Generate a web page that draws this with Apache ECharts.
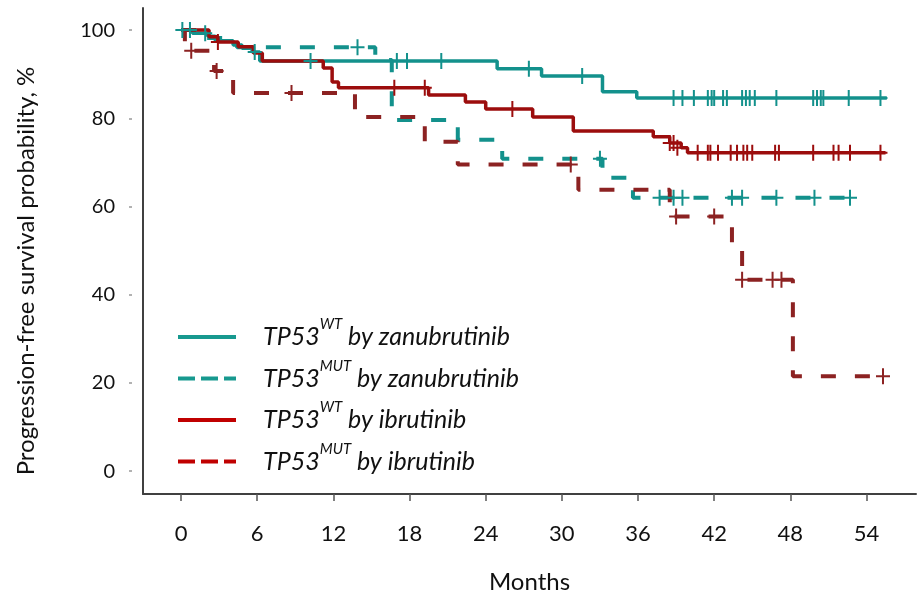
<!DOCTYPE html>
<html>
<head>
<meta charset="utf-8">
<script src="https://cdn.jsdelivr.net/npm/echarts@6/dist/echarts.min.js"></script>
<style>
  html, body { margin: 0; padding: 0; background: #fff; }
  #chart { width: 918px; height: 599px; }
</style>
</head>
<body>
<div id="chart"></div>
<script>
// Kaplan-Meier steps: [month, survival %] (value after the drop)
var zanuWT = [[0,100],[0.9,99.3],[2.1,98.6],[2.7,97.6],[4.1,96.6],[4.8,95.9],[5.6,95.0],[6.2,93.0],
  [24.9,91.2],[28.4,89.6],[33.2,86.0],[35.9,84.6],[55.6,84.6]];
var zanuMUT = [[0,100],[1.4,98.2],[4.4,96.1],[15.3,93.2],[16.6,79.6],[21.8,75.1],[25.3,70.8],
  [33.2,66.5],[35.6,62.0],[53.1,62.0]];
var ibruWT = [[0,100],[2.2,98.5],[2.9,97.3],[4.5,96.2],[5.7,94.8],[6.4,93.0],[11.2,91.4],[11.9,88.2],
  [12.4,86.9],[19.5,85.3],[22.4,83.7],[24.0,82.1],[27.7,80.3],[30.9,77.1],[37.2,75.8],[38.5,74.4],
  [39.4,73.3],[39.9,72.2],[55.5,72.2]];
var ibruMUT = [[0,100],[0.3,95.3],[2.6,90.7],[4.1,85.7],[13.7,80.3],[19.2,74.7],[21.8,69.5],
  [31.3,63.8],[38.5,57.7],[43.4,50.7],[44.2,43.4],[48.2,21.5],[55.3,21.5]];

// censored observations
var zanuWTcens = [[0.1,100],[0.7,100],[1.9,99.3],[5.8,95.0],[10.2,93],[17.0,93],[17.8,93],[20.5,93],
  [27.4,91.2],[31.6,89.6],[38.8,84.6],[39.5,84.6],[40.4,84.6],[41.5,84.6],[41.8,84.6],[42.0,84.6],
  [42.7,84.6],[43.0,84.6],[44.2,84.6],[44.5,84.6],[44.8,84.6],[45.2,84.6],[46.9,84.6],[49.8,84.6],
  [50.1,84.6],[50.4,84.6],[50.6,84.6],[52.6,84.6],[55.1,84.6]];
var zanuMUTcens = [[13.9,96.1],[33.0,70.8],[37.7,62],[38.8,62],[39.5,62],[43.4,62],[44.2,62],
  [46.9,62],[49.9,62],[52.7,62]];
var ibruWTcens = [[2.9,97.3],[16.8,86.9],[19.2,86.9],[26.1,82.1],[38.5,74.4],[38.8,74.4],[39.1,73.3],
  [40.7,72.2],[41.5,72.2],[41.7,72.2],[42.3,72.2],[43.3,72.2],[43.8,72.2],[44.3,72.2],[44.6,72.2],
  [45.0,72.2],[46.8,72.2],[47.1,72.2],[49.8,72.2],[51.4,72.2],[51.8,72.2],[52.7,72.2],[55.1,72.2]];
var ibruMUTcens = [[0.8,95.3],[2.8,90.7],[8.7,85.7],[30.7,69.5],[39.0,57.7],[42.0,57.7],[44.2,43.4],
  [46.6,43.4],[47.3,43.4],[55.3,21.5]];

var xTicks = [0, 6, 12, 18, 24, 30, 36, 42, 48, 54];
var yTicks = [0, 20, 40, 60, 80, 100];

var legendText = {
  zWT: '{i|TP53}{s|WT}{i| by zanubrutinib}',
  zMUT: '{i|TP53}{s|MUT}{i| by zanubrutinib}',
  iWT: '{i|TP53}{s|WT}{i| by ibrutinib}',
  iMUT: '{i|TP53}{s|MUT}{i| by ibrutinib}'
};

var TEAL = '#13918c', RED = '#9c0d0d', RED2 = '#8c2222';
var plus = 'path://M6,0H8V7H14V9H8V16H6V9H0V7H6Z';

function kmLine(name, data, color, dashed) {
  return {
    name: name, type: 'line', step: 'end', data: data, symbol: 'none',
    lineStyle: { color: color, width: dashed ? 4 : 3.5, type: dashed ? [15, 19] : 'solid' },
    itemStyle: { color: color },
    z: 2, silent: true, animation: false
  };
}
function cens(name, data, color) {
  return {
    name: name, type: 'scatter', data: data, symbol: plus, symbolSize: [14, 16],
    itemStyle: { color: color, opacity: 1 }, z: 3, silent: true, animation: false
  };
}

var chart = echarts.init(document.getElementById('chart'));
chart.setOption({
  animation: false,
  grid: { left: 143, right: 2, top: 8, bottom: 104, containLabel: false },
  textStyle: { fontFamily: 'Lato', color: '#111' },
  legend: {
    data: [
      { name: 'zWT', lineStyle: { color: '#17998f', width: 4, type: 'solid' } },
      { name: 'zMUT', lineStyle: { color: '#17998f', width: 4, type: [17, 6] } },
      { name: 'iWT', lineStyle: { color: '#c00000', width: 4, type: 'solid' } },
      { name: 'iMUT', lineStyle: { color: '#c00000', width: 4, type: [17, 6] } }
    ],
    itemStyle: { opacity: 0 },
    orient: 'vertical', left: 171, top: 312,
    itemWidth: 58, itemHeight: 12, itemGap: 9,
    selectedMode: false,
    formatter: function (n) { return legendText[n]; },
    textStyle: {
      padding: [0, 0, 0, 22],
      rich: {
        i: { fontFamily: 'Lato', fontStyle: 'italic', fontSize: 25, color: '#111', lineHeight: 40 },
        s: { fontFamily: 'Lato', fontStyle: 'italic', fontSize: 15, color: '#111', verticalAlign: 'top', lineHeight: 15 }
      }
    }
  },
  xAxis: {
    type: 'value', min: -3, max: 57.9,
    axisLine: { show: true, onZero: false, lineStyle: { color: '#404040', width: 2 } },
    axisTick: { show: true, customValues: xTicks, length: 7, lineStyle: { color: '#555', width: 1.5 } },
    axisLabel: { customValues: xTicks, margin: 29, fontSize: 22, color: '#111', fontFamily: 'Lato' },
    splitLine: { show: false },
    name: 'Months', nameLocation: 'middle', nameGap: 76,
    nameTextStyle: { fontSize: 24, color: '#111', fontFamily: 'Lato' }
  },
  yAxis: [
    {
      type: 'value', min: -5.2, max: 105,
      axisLine: { show: true, onZero: false, lineStyle: { color: '#404040', width: 2 } },
      axisTick: { show: false }, axisLabel: { show: false }, splitLine: { show: false }
    },
    {
      type: 'value', min: -5.2, max: 105, position: 'left', offset: 11,
      axisLine: { show: false, onZero: false },
      axisTick: { show: true, customValues: yTicks, length: 3, lineStyle: { color: '#999', width: 1.5 } },
      axisLabel: { customValues: yTicks, margin: 17, fontSize: 20, color: '#111', fontFamily: 'Lato' },
      splitLine: { show: false }
    }
  ],
  graphic: [{
    type: 'text', x: 26, y: 271, rotation: Math.PI / 2,
    style: {
      text: 'Progression-free survival probability, %', fontFamily: 'Lato', fontSize: 24,
      fill: '#111', textAlign: 'center', textVerticalAlign: 'middle'
    }
  }],
  series: [
    kmLine('zWT', zanuWT, TEAL, false),
    kmLine('zMUT', zanuMUT, TEAL, true),
    kmLine('iWT', ibruWT, RED, false),
    kmLine('iMUT', ibruMUT, RED2, true),
    cens('zWT censored', zanuWTcens, TEAL),
    cens('zMUT censored', zanuMUTcens, TEAL),
    cens('iWT censored', ibruWTcens, RED),
    cens('iMUT censored', ibruMUTcens, RED2)
  ]
});
</script>
</body>
</html>
